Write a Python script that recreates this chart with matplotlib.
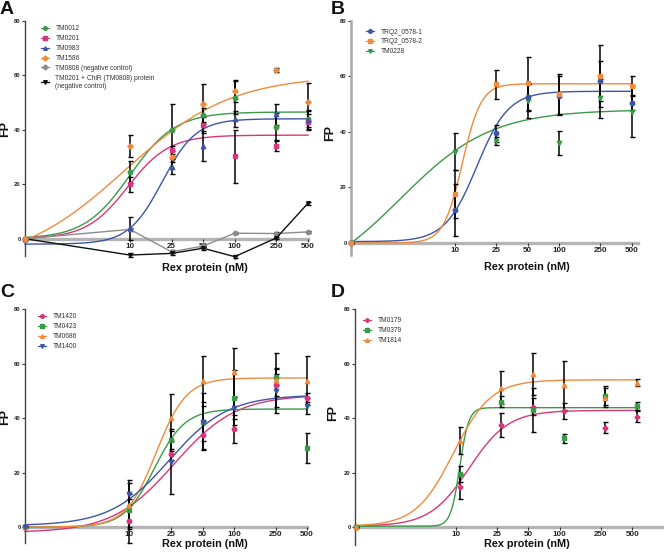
import numpy as np
import matplotlib
matplotlib.use('Agg')
import matplotlib.pyplot as plt
from matplotlib.ticker import FixedLocator, FixedFormatter, NullLocator
from matplotlib.lines import Line2D

plt.rcParams['font.family'] = ['Liberation Sans', 'DejaVu Sans']

GREEN = '#3a9a48'
PINK = '#d8367a'
BLUE = '#3d55a5'
ORANGE = '#f08a3c'
GRAY = '#8c8c8c'
BLACK = '#111111'

xtick_vals = [10, 25, 50, 100, 250, 500]
xtick_labels = ['10', '25', '50', '100', '250', '500']
ytick_vals = [0, 20, 40, 60, 80]

# ---------------- Panel A ----------------
conc_A = [0, 10, 25, 50, 100, 250, 500]
A_TM0012 = [0, 24.6, 39.9, 45.4, 51.8, 41.1, 44.0]
A_TM0012_err = [0, 4.0, 9.5, 2.5, 6.0, 5.0, 3.0]
A_TM0012_fit = [0.0, 46.5, 1.00, 2.0]
A_TM0201 = [0, 20.0, 32.5, 41.7, 30.3, 34.0, 42.9]
A_TM0201_err = [0, 2.8, 1.5, 3.0, 9.7, 2.0, 3.0]
A_TM0201_fit = [0.0, 38.0, 0.98, 2.2]
A_TM0983 = [0, 3.8, 26.4, 34.1, 44.0, 45.6, 43.6]
A_TM0983_err = [0, 4.2, 2.8, 5.5, 3.0, 4.0, 3.5]
A_TM0983_fit = [-2.0, 44.0, 1.31, 2.7]
A_TM1586 = [0, 34.1, 30.1, 49.3, 54.2, 61.9, 50.3]
A_TM1586_err = [0, 4.0, 2.0, 7.3, 4.0, 0.6, 7.0]
A_TM1586_fit = [-10.0, 60.0, 0.95, 0.85]
A_TM0808 = [0, 3.4, -4.8, -2.7, 2.0, 1.9, 2.5]
A_TM0808_err = [0, 0.5, 0.5, 0.5, 0.4, 0.4, 0.4]
A_ChiR = [0, -6.0, -5.4, -3.5, -6.6, 0.3, 13.0]
A_ChiR_err = [0, 0.7, 0.5, 0.5, 0.5, 0.5, 0.5]

# ---------------- Panel B ----------------
conc_B = [0, 10, 25, 50, 100, 250, 500]
B_TRQ1 = [0, 11.9, 39.5, 52.5, 53.0, 58.4, 50.5]
B_TRQ1_err = [0, 9.4, 3.0, 5.0, 7.0, 7.2, 2.5]
B_TRQ1_fit = [0.5, 54.6, 1.21, 2.85]
B_TRQ2 = [0, 17.6, 57.1, 57.5, 53.5, 60.1, 56.6]
B_TRQ2_err = [0, 8.5, 5.2, 9.5, 7.2, 11.0, 3.5]
B_TRQ2_fit = [0.0, 57.3, 1.07, 4.8]
B_TM0228 = [0, 32.9, 36.7, 51.1, 35.9, 52.1, 47.3]
B_TM0228_err = [0, 6.6, 1.4, 6.0, 4.3, 7.0, 9.3]
B_TM0228_fit = [-16.0, 48.0, 0.477, 1.0]

# ---------------- Panel C ----------------
conc_C = [0, 10, 25, 50, 100, 250, 500]
C_TM1420 = [0, 2.2, 26.7, 33.8, 36.0, 52.0, 47.5]
C_TM1420_err = [0, 8.0, 2.0, 5.0, 5.0, 4.0, 1.5]
C_TM1420_fit = [-2.0, 48.5, 1.43, 1.47]
C_TM0423 = [0, 6.2, 31.9, 38.7, 47.5, 55.2, 28.9]
C_TM0423_err = [0, 6.0, 4.0, 10.4, 10.0, 3.0, 5.5]
C_TM0423_fit = [0.0, 43.3, 1.24, 2.98]
C_TM0686 = [0, 8.1, 40.1, 53.6, 56.8, 54.0, 53.6]
C_TM0686_err = [0, 9.0, 8.6, 9.2, 9.0, 10.0, 9.0]
C_TM0686_fit = [0.0, 54.7, 1.256, 3.0]
C_TM1400 = [0, 12.0, 23.7, 38.7, 43.8, 49.9, 44.5]
C_TM1400_err = [0, 4.0, 11.7, 7.0, 4.0, 8.0, 3.0]
C_TM1400_fit = [0.5, 48.5, 1.38, 1.55]

# ---------------- Panel D ----------------
conc_D = [0, 11, 27.5, 55, 110, 275, 550]
D_TM0179 = [0, 14.8, 37.4, 44.2, 42.5, 36.5, 40.5]
D_TM0179_err = [0, 4.5, 4.5, 3.0, 3.0, 2.0, 2.0]
D_TM0179_fit = [0.3, 42.8, 1.13, 2.3]
D_TM0379 = [0, 19.4, 46.0, 42.9, 32.5, 48.1, 44.5]
D_TM0379_err = [0, 3.0, 2.0, 8.0, 1.7, 3.5, 1.5]
D_TM0379_fit = [0.3, 43.8, 1.04, 10.0]
D_TM1814 = [0, 31.7, 51.1, 56.0, 52.1, 47.5, 53.0]
D_TM1814_err = [0, 5.0, 6.0, 7.7, 9.0, 3.5, 1.2]
D_TM1814_fit = [0.3, 54.0, 0.98, 2.4]


def four_pl(x, p):
    b, t, c, h = p
    X = np.log10(x)
    return b + (t - b) / (1 + 10 ** ((c - X) * h))


fig = plt.figure(figsize=(6.64, 5.55), dpi=100)
W, H = 664.0, 555.0


def make_ax(left_px, right_px, top_px, bottom_px):
    return fig.add_axes([left_px / W, 1 - bottom_px / H,
                         (right_px - left_px) / W, (bottom_px - top_px) / H])


def setup(ax, xlim, ylim, lspine_color, lspine_lw, ylab_xy, xlab_xy):
    ax.set_xscale('log')
    ax.set_xlim(*xlim)
    ax.set_ylim(*ylim)
    ax.patch.set_alpha(0)
    for s in ('top', 'right'):
        ax.spines[s].set_visible(False)
    ax.spines['bottom'].set_position(('data', 0))
    ax.spines['bottom'].set_color('#b4b4b4')
    ax.spines['bottom'].set_linewidth(2.4)
    ax.spines['bottom'].set_zorder(1)
    ax.spines['left'].set_color(lspine_color)
    ax.spines['left'].set_linewidth(lspine_lw)
    ax.xaxis.set_major_locator(FixedLocator(xtick_vals))
    ax.xaxis.set_major_formatter(FixedFormatter(xtick_labels))
    ax.xaxis.set_minor_locator(NullLocator())
    ax.yaxis.set_major_locator(FixedLocator(ytick_vals))
    ax.tick_params(axis='x', length=2, width=0.8, labelsize=5.8, pad=1.0, color='#333333')
    ax.tick_params(axis='y', length=2, width=0.8, labelsize=4.2, pad=1, color='#333333')
    for lab in ax.get_xticklabels() + ax.get_yticklabels():
        lab.set_fontweight('bold')
        lab.set_color('#222222')
    ax.set_ylabel('FP', fontsize=9, fontweight='bold', color='#111111')
    ax.yaxis.set_label_coords(*ylab_xy)
    ax.set_xlabel('Rex protein (nM)', fontsize=7.8, fontweight='bold', color='#111111')
    ax.xaxis.set_label_coords(*xlab_xy)


def plot_series(ax, conc, zero_at, y, err, color, marker, fit, x_start, ms=3.2):
    xs = np.array([zero_at if c == 0 else c for c in conc], dtype=float)
    y = np.array(y, dtype=float)
    e = np.array(err, dtype=float)
    ax.errorbar(xs, y, yerr=e, fmt='none', ecolor='black', elinewidth=1.1,
                capsize=1.8, capthick=1.0, zorder=3, clip_on=False)
    if fit is not None:
        xx = np.logspace(np.log10(x_start), np.log10(max(conc)), 400)
        ax.plot(xx, four_pl(xx, fit), color=color, lw=1.0, zorder=2, clip_on=False)
        ax.plot(xs, y, linestyle='none', marker=marker, ms=ms, color=color,
                mec=color, zorder=4, clip_on=False)
    else:
        ax.plot(xs, y, linestyle='-', lw=1.0, marker=marker, ms=ms, color=color,
                mec=color, zorder=4, clip_on=False)


def add_legend(ax, entries, x_px, y_px):
    handles = [Line2D([0], [0], color=c, marker=m, ms=2.6, lw=0.9) for (lab, c, m) in entries]
    labels = [lab for (lab, c, m) in entries]
    leg = ax.legend(handles, labels, loc='upper left', bbox_to_anchor=(x_px / W, 1 - y_px / H),
                    bbox_transform=fig.transFigure, frameon=False, fontsize=4.8,
                    handlelength=1.15, handletextpad=1.0, labelspacing=0.42,
                    borderpad=0, borderaxespad=0)
    for t in leg.get_texts():
        t.set_color('#333333')


# ---------- A ----------
axA = make_ax(25, 308, 20.7, 256.4)
setup(axA, (1, 500), (-6.5, 80), '#444444', 1.0, (-0.05, 0.54), (0.636, -0.03))
plot_series(axA, conc_A, 1, A_TM0808, A_TM0808_err, GRAY, 'D', None, 1, ms=2.6)
plot_series(axA, conc_A, 1, A_ChiR, A_ChiR_err, BLACK, 'v', None, 1, ms=2.6)
plot_series(axA, conc_A, 1, A_TM0012, A_TM0012_err, GREEN, 'o', A_TM0012_fit, 1)
plot_series(axA, conc_A, 1, A_TM0201, A_TM0201_err, PINK, 's', A_TM0201_fit, 1)
plot_series(axA, conc_A, 1, A_TM0983, A_TM0983_err, BLUE, '^', A_TM0983_fit, 1)
plot_series(axA, conc_A, 1, A_TM1586, A_TM1586_err, ORANGE, 'D', A_TM1586_fit, 1, ms=2.8)
add_legend(axA, [('TM0012', GREEN, 'o'), ('TM0201', PINK, 's'), ('TM0983', BLUE, '^'),
                 ('TM1586', ORANGE, 'D'), ('TM0808 (negative control)', GRAY, 'D'),
                 ('TM0201 + ChiR (TM0808) protein\n(negative control)', BLACK, 'v')],
           41, 25.5)

# ---------- B ----------
axB = make_ax(351, 638, 20.7, 255.5)
setup(axB, (1, 575), (-4.5, 80), '#a8a8a8', 1.8, (-0.052, 0.52), (0.612, -0.028))
plot_series(axB, conc_B, 1, B_TM0228, B_TM0228_err, GREEN, 'v', B_TM0228_fit, 1)
plot_series(axB, conc_B, 1, B_TRQ1, B_TRQ1_err, BLUE, 'o', B_TRQ1_fit, 1)
plot_series(axB, conc_B, 1, B_TRQ2, B_TRQ2_err, ORANGE, 's', B_TRQ2_fit, 1)
add_legend(axB, [('TRQ2_0578-1', BLUE, 'o'), ('TRQ2_0578-2', ORANGE, 's'),
                 ('TM0228', GREEN, 'v')], 366, 28.5)

# ---------- C ----------
axC = make_ax(25, 307, 309, 543.4)
setup(axC, (1, 500), (-6, 80), '#444444', 1.0, (-0.05, 0.54), (0.638, 0.017))
plot_series(axC, conc_C, 1, C_TM1420, C_TM1420_err, PINK, 'o', C_TM1420_fit, 1)
plot_series(axC, conc_C, 1, C_TM0423, C_TM0423_err, GREEN, 's', C_TM0423_fit, 1)
plot_series(axC, conc_C, 1, C_TM0686, C_TM0686_err, ORANGE, '^', C_TM0686_fit, 1)
plot_series(axC, conc_C, 1, C_TM1400, C_TM1400_err, BLUE, 'v', C_TM1400_fit, 1)
add_legend(axC, [('TM1420', PINK, 'o'), ('TM0423', GREEN, 's'), ('TM0686', ORANGE, '^'),
                 ('TM1400', BLUE, 'v')], 38, 313.5)

# ---------- D ----------
axD = make_ax(355, 662, 309, 545)
setup(axD, (1.08, 964), (-6.6, 80), '#444444', 1.0, (-0.052, 0.56), (0.56, 0.024))
plot_series(axD, conc_D, 1.1, D_TM0179, D_TM0179_err, PINK, 'P', D_TM0179_fit, 1.08)
plot_series(axD, conc_D, 1.1, D_TM0379, D_TM0379_err, GREEN, 's', D_TM0379_fit, 1.08)
plot_series(axD, conc_D, 1.1, D_TM1814, D_TM1814_err, ORANGE, '^', D_TM1814_fit, 1.08)
add_legend(axD, [('TM0179', PINK, 'P'), ('TM0379', GREEN, 's'), ('TM1814', ORANGE, '^')],
           363, 317.5)

# panel letters
for letter, x, y in [('A', 0, 1), ('B', 331, 1), ('C', 0, 284), ('D', 331, 284)]:
    fig.text(x / W, 1 - y / H, letter, fontsize=14, fontweight='bold', va='top', ha='left',
             color='#111111')

fig.savefig('out.png', dpi=100)
